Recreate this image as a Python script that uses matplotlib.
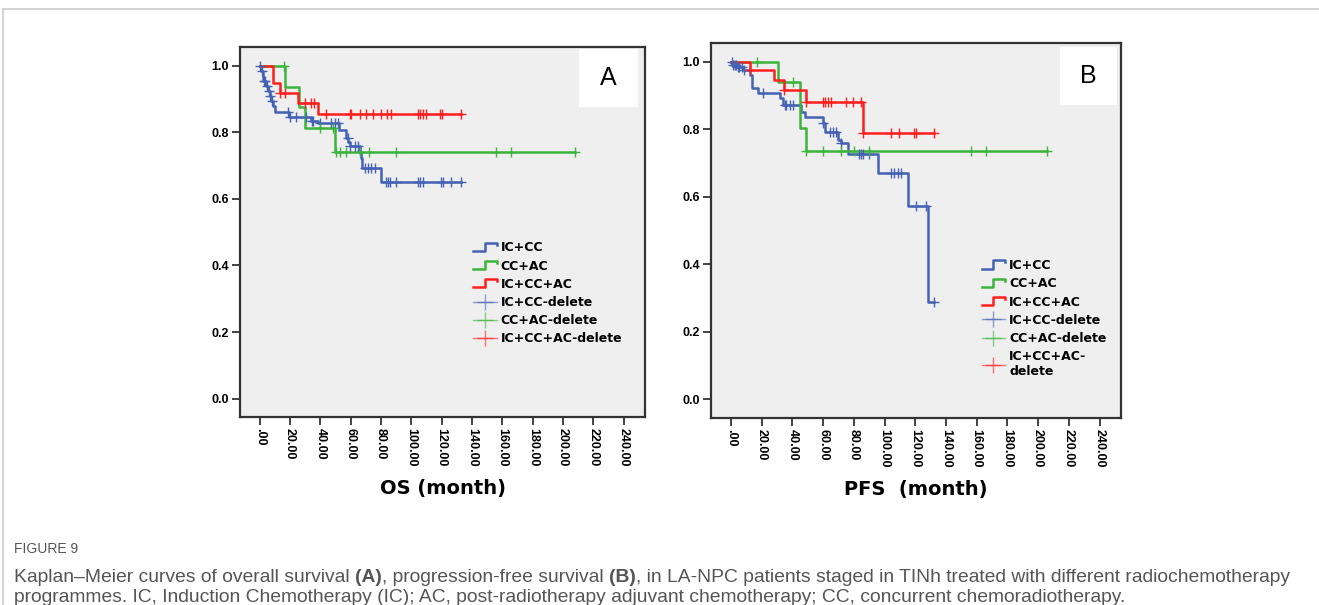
import numpy as np
import matplotlib
matplotlib.use("Agg")
import matplotlib.pyplot as plt
from matplotlib.lines import Line2D
from matplotlib.patches import Rectangle
from matplotlib.text import Annotation
from matplotlib.legend_handler import HandlerBase

# ---- data ----
# OS, panel A: event times (months) and survival after each event
os_iccc_t = [0, 0.7, 2.2, 4.4, 5.5, 6.6, 7.7, 8.8, 9.9, 19.5, 34.0, 38.5, 52.3, 57.1, 58.5, 59.6, 65.9, 66.8, 67.7, 80.2, 133.0]
os_iccc_s = [1.0, 0.983, 0.953, 0.938, 0.923, 0.909, 0.894, 0.879, 0.862, 0.846, 0.833, 0.828, 0.808, 0.783, 0.770, 0.760, 0.739, 0.724, 0.694, 0.652, 0.652]
os_iccc_c = [0.5, 1.2, 2.5, 3.5, 4.8, 5.8, 7.0, 8.2, 18.7, 19.8, 24.2, 30.8, 34.5, 35.2, 39.6, 47.3, 49.5, 51.6,
             58.0, 59.6, 62.9, 64.6, 69.2, 71.4, 73.6, 75.8, 83.5, 84.6, 85.7, 90.1,
             104.4, 105.5, 107.7, 119.8, 120.8, 126.4, 133.0]

os_ccac_t = [0, 16.5, 26.0, 29.7, 49.4, 207.6]
os_ccac_s = [1.0, 0.935, 0.876, 0.814, 0.740, 0.740]
os_ccac_c = [16.0, 39.6, 48.3, 50.5, 52.7, 57.1, 65.9, 72.3, 90.1, 155.6, 165.9, 207.6]

os_icccac_t = [0, 8.8, 13.2, 25.3, 38.5, 133.0]
os_icccac_s = [1.0, 0.948, 0.918, 0.889, 0.854, 0.854]
os_icccac_c = [13.6, 16.5, 29.7, 33.8, 35.8, 44.0, 59.3, 60.4, 65.9, 70.3, 74.7, 80.2, 83.9, 86.8,
               104.4, 105.5, 107.7, 109.9, 119.1, 120.2, 133.0]

# PFS, panel B
pfs_iccc_t = [0, 1.0, 4.0, 8.0, 12.3, 13.4, 17.7, 31.8, 33.9, 45.8, 48.0, 59.9, 61.0, 69.6, 71.8, 76.1, 95.5, 115.0, 128.0, 132.3]
pfs_iccc_s = [1.0, 0.992, 0.986, 0.976, 0.961, 0.922, 0.907, 0.892, 0.873, 0.853, 0.838, 0.818, 0.793, 0.769, 0.759, 0.727, 0.670, 0.573, 0.290, 0.290]
pfs_iccc_c = [0.5, 1.5, 2.5, 3.5, 4.5, 5.5, 7.0, 8.5, 21.0, 35.0, 36.1, 38.3, 40.4, 59.9, 64.2, 66.3, 68.5,
              71.8, 83.7, 84.8, 85.8, 90.1, 104.2, 106.4, 108.5, 110.7, 120.4, 126.9, 132.3]

pfs_ccac_t = [0, 30.7, 44.7, 49.1, 205.8]
pfs_ccac_s = [1.0, 0.940, 0.805, 0.737, 0.737]
pfs_ccac_c = [17.1, 40.4, 49.1, 59.9, 71.8, 80.4, 90.1, 156.1, 165.8, 205.8]

pfs_icccac_t = [0, 12.3, 28.1, 34.6, 49.1, 85.8, 132.3]
pfs_icccac_s = [1.0, 0.976, 0.947, 0.917, 0.882, 0.789, 0.789]
pfs_icccac_c = [12.3, 34.6, 49.1, 59.9, 61.0, 63.1, 65.3, 75.0, 79.3, 84.8, 85.8,
                104.2, 109.6, 119.3, 120.4, 132.3]

labels_a = ["IC+CC", "CC+AC", "IC+CC+AC", "IC+CC-delete", "CC+AC-delete", "IC+CC+AC-delete"]
labels_b = ["IC+CC", "CC+AC", "IC+CC+AC", "IC+CC-delete", "CC+AC-delete", "IC+CC+AC-\ndelete"]
x_ticks = list(range(0, 241, 20))
y_ticks = [0.0, 0.2, 0.4, 0.6, 0.8, 1.0]

BLUE = "#4462b4"
GREEN = "#3cb43c"
RED = "#ff1e1e"


def step_val(t, s, c):
    t = np.asarray(t)
    s = np.asarray(s)
    idx = np.searchsorted(t, c, side="right") - 1
    return s[np.clip(idx, 0, len(s) - 1)]


class StepHandler(HandlerBase):
    def create_artists(self, legend, orig_handle, xdescent, ydescent, width, height, fontsize, trans):
        x0 = -xdescent
        x1 = x0 + width
        xm = x0 + width * 0.5
        yl = -ydescent + height * 0.05
        yh = -ydescent + height * 1.0
        ln = Line2D([x0, xm, xm, x1, x1], [yl, yl, yh, yh, yh - height * 0.25],
                    color=orig_handle.get_color(), lw=1.8, transform=trans)
        return [ln]


def km_panel(ax, curves, letter, xlabel, labels, leg_anchor):
    ax.set_facecolor("#efefef")
    handles = []
    for t, s, c, col in curves:
        ax.step(t, s, where="post", color=col, lw=1.8, zorder=3)
        ax.plot(c, step_val(t, s, c), ls="none", marker="+", ms=7, mew=1.0, color=col, zorder=4)
        handles.append(Line2D([], [], color=col))
    for t, s, c, col in curves:
        handles.append(Line2D([], [], color=col, alpha=0.6, lw=1.0, marker="+", ms=11, mew=1.0))
    ax.set_xlim(-13, 254)
    ax.set_ylim(-0.055, 1.056)
    ax.set_xticks(x_ticks)
    ax.set_xticklabels([".00" if v == 0 else "%.2f" % v for v in x_ticks],
                       rotation=-90, fontsize=9, fontweight="bold", family="Liberation Sans")
    ax.set_yticks(y_ticks)
    ax.set_yticklabels(["%.1f" % v for v in y_ticks], fontsize=9, fontweight="bold", family="Liberation Sans")
    ax.tick_params(direction="out", length=6, width=1.2, pad=2, color="#222")
    for sp in ax.spines.values():
        sp.set_linewidth(1.6)
        sp.set_color("#333")
    ax.set_xlabel(xlabel, fontsize=14, fontweight="bold", family="DejaVu Sans", labelpad=9)
    box = Rectangle((letter[1], letter[2]), letter[3], letter[4], transform=ax.transAxes,
                    facecolor="white", edgecolor="none", zorder=2)
    ax.add_patch(box)
    ax.text(letter[1] + letter[3] / 2, letter[2] + letter[4] / 2, letter[0], transform=ax.transAxes,
            ha="center", va="center", fontsize=18, family="Liberation Sans", zorder=3)
    hmap = {h: StepHandler() for h in handles[:3]}
    leg = ax.legend(handles, labels, loc="upper left", bbox_to_anchor=leg_anchor, frameon=False,
                    borderpad=0, borderaxespad=0, handlelength=1.9, handletextpad=0.3,
                    labelspacing=0.42, numpoints=1, handler_map=hmap,
                    prop={"family": "DejaVu Sans", "weight": "bold", "size": 9})
    return leg


fig = plt.figure(figsize=(13.19, 6.05), dpi=100)
W, H = 1319.0, 605.0

ax_a = fig.add_axes([240 / W, 1 - 417 / H, 405 / W, 370 / H])
ax_b = fig.add_axes([711 / W, 1 - 418 / H, 410 / W, 375 / H])

km_panel(ax_a,
         [(os_iccc_t, os_iccc_s, os_iccc_c, BLUE),
          (os_ccac_t, os_ccac_s, os_ccac_c, GREEN),
          (os_icccac_t, os_icccac_s, os_icccac_c, RED)],
         ("A", 0.838, 0.839, 0.145, 0.155), "OS (month)", labels_a, (0.575, 0.475))
km_panel(ax_b,
         [(pfs_iccc_t, pfs_iccc_s, pfs_iccc_c, BLUE),
          (pfs_ccac_t, pfs_ccac_s, pfs_ccac_c, GREEN),
          (pfs_icccac_t, pfs_icccac_s, pfs_icccac_c, RED)],
         ("B", 0.851, 0.835, 0.139, 0.155), "PFS  (month)", labels_b, (0.66, 0.424))

# page frame lines
fig.add_artist(Line2D([3 / W, 1], [1 - 9 / H, 1 - 9 / H], color="#cccccc", lw=1.2, transform=fig.transFigure))
fig.add_artist(Line2D([3 / W, 3 / W], [0, 1 - 9 / H], color="#cccccc", lw=1.2, transform=fig.transFigure))

# caption
cap_col = "#555555"
cap_size = 13.85
fig.text(14 / W, 1 - 549 / H, "FIGURE 9", fontsize=10, color=cap_col, va="center", family="Liberation Sans")


def caption_line(parts, y):
    prev = fig.text(14 / W, y, parts[0][0], fontsize=cap_size, color=cap_col, va="center",
                    family="Liberation Sans", fontweight="bold" if parts[0][1] else "normal")
    for txt, bold in parts[1:]:
        a = Annotation(txt, xy=(1, 0.5), xycoords=prev, va="center", ha="left", fontsize=cap_size,
                       color=cap_col, family="Liberation Sans", fontweight="bold" if bold else "normal")
        fig.add_artist(a)
        prev = a


caption_line([("Kaplan\u2013Meier curves of overall survival ", False), ("(A)", True),
              (", progression-free survival ", False), ("(B)", True),
              (", in LA-NPC patients staged in TINh treated with different radiochemotherapy", False)],
             1 - 577 / H)
caption_line([("programmes. IC, Induction Chemotherapy (IC); AC, post-radiotherapy adjuvant chemotherapy; "
               "CC, concurrent chemoradiotherapy.", False)], 1 - 597 / H)

fig.savefig("out.png", dpi=100)
